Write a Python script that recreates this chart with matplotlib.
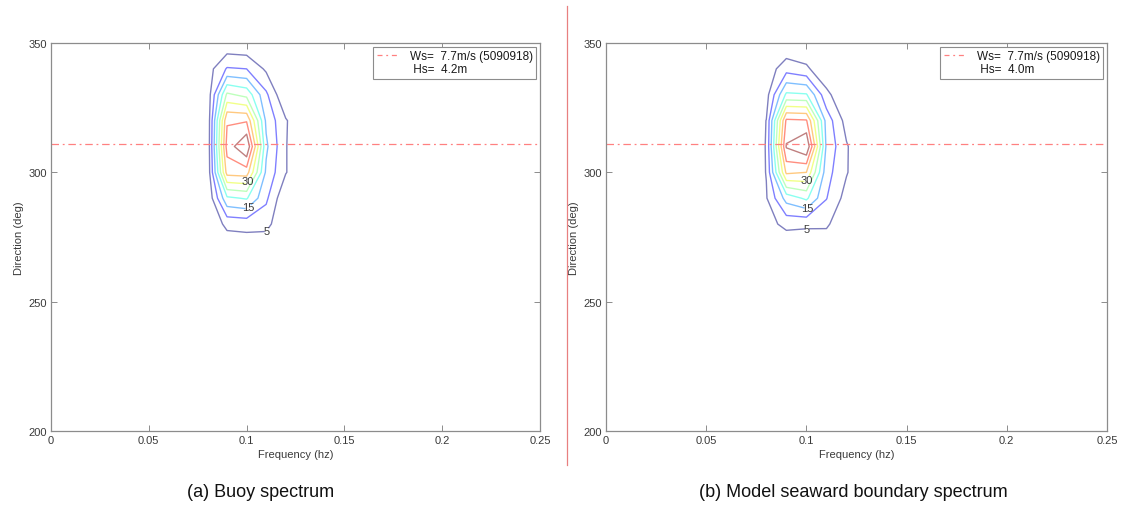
import numpy as np
import matplotlib
matplotlib.use("Agg")
import matplotlib.pyplot as plt
from matplotlib.lines import Line2D

plt.rcParams['font.family'] = ['Liberation Sans', 'DejaVu Sans']

# spectral grid: frequency (hz) x direction (deg)
freq = np.array([0.07, 0.08, 0.09, 0.10, 0.11, 0.12, 0.13])
direc = np.array([260, 270, 280, 290, 300, 310, 320, 330, 340, 350, 360])

# energy density, one row per direction
buoy_spec = np.array([
    [0, 0.0, 0.0, 0.0, 0.0, 0.0, 0],
    [0, 0.0, 0.5, 0.8, 0.5, 0.0, 0],
    [0, 0.0, 6.5, 7.0, 6.8, 0.0, 0],
    [0, 0.5, 19.0, 20.5, 11.0, 0.5, 0],
    [0, 1.0, 37.0, 37.5, 14.0, 5.3, 0],
    [0, 1.0, 42.0, 50.0, 16.0, 5.3, 0],
    [0, 1.0, 39.5, 39.5, 14.0, 5.5, 0],
    [0, 1.5, 26.0, 23.5, 11.0, 0.0, 0],
    [0, 2.6, 10.5, 10.0, 4.1, 0.0, 0],
    [0, 0.0, 1.0, 0.5, 0.0, 0.0, 0],
    [0, 0.0, 0.0, 0.0, 0.0, 0.0, 0],
])

model_spec = np.array([
    [0, 0.0, 0.0, 0.0, 0.0, 0.0, 0],
    [0, 0.0, 0.3, 0.5, 0.3, 0.0, 0],
    [0, 3.0, 6.5, 6.0, 6.0, 0.0, 0],
    [0, 4.6, 17.0, 21.0, 10.2, 3.0, 0],
    [0, 5.2, 36.0, 35.0, 12.0, 5.4, 0],
    [0, 5.3, 45.5, 50.0, 14.0, 5.5, 0],
    [0, 5.1, 41.0, 40.5, 13.0, 3.0, 0],
    [0, 3.0, 21.0, 20.5, 6.5, 0.0, 0],
    [0, 2.0, 8.0, 6.0, 0.5, 0.0, 0],
    [0, 0.0, 0.5, 0.3, 0.0, 0.0, 0],
    [0, 0.0, 0.0, 0.0, 0.0, 0.0, 0],
])

levels = [5, 10, 15, 20, 25, 30, 35, 40, 45]
buoy_labels = {5: (0.1103, 277.3), 15: (0.1007, 286.9), 30: (0.1008, 296.4)}
model_labels = {5: (0.1003, 275.1), 15: (0.1003, 286.7), 30: (0.1003, 296.8)}

wind_dir = 311.0
ws_label = "Ws=  7.7m/s (5090918)"
hs_buoy = " Hs=  4.2m"
hs_model = " Hs=  4.0m"

xticks = [0, 0.05, 0.1, 0.15, 0.2, 0.25]
xticklabels = ['0', '0.05', '0.1', '0.15', '0.2', '0.25']
yticks = [200, 250, 300, 350]

W, H = 1124, 510
fig = plt.figure(figsize=(W / 100, H / 100), dpi=100)
ax_a = fig.add_axes([51 / W, 1 - 432 / H, 489 / W, 388 / H])
ax_b = fig.add_axes([606 / W, 1 - 432 / H, 501 / W, 388 / H])

grey = '#8c8c8c'
txt = '#3a3a3a'
jet = plt.get_cmap('jet')


def draw_panel(ax, spec, hs_text, label_pos, caption, cap_x):
    # one contour set per level so each labelled level can be broken inline
    for i, lev in enumerate(levels):
        col = jet(i / (len(levels) - 1))
        cs = ax.contour(freq, direc, spec, levels=[lev], colors=[col],
                        linewidths=1.0, alpha=0.5)
        if lev in label_pos:
            lbls = ax.clabel(cs, manual=[label_pos[lev]], inline=True,
                             fontsize=8, colors=txt, fmt='%d')
            for t in lbls:
                t.set_rotation(0)
                t.set_alpha(1)

    ax.axhline(wind_dir, color='#ff8080', lw=0.9, dashes=(6, 3, 1.5, 3))

    h1 = Line2D([], [], color='#ff8080', lw=0.9, dashes=(4, 3, 1.5, 3))
    h2 = Line2D([], [], color='none')
    leg = ax.legend([h1, h2], [ws_label, hs_text], loc='upper right',
                    fontsize=8.5, frameon=True, fancybox=False, framealpha=1,
                    borderpad=0.3, labelspacing=0.1, handlelength=2.0,
                    handletextpad=0.8, borderaxespad=0.3)
    leg.get_frame().set_edgecolor(grey)
    leg.get_frame().set_linewidth(0.8)
    for t in leg.get_texts():
        t.set_color('#1a1a1a')

    ax.set_xlim(0, 0.25)
    ax.set_ylim(200, 350)
    ax.set_xticks(xticks)
    ax.set_xticklabels(xticklabels)
    ax.set_yticks(yticks)
    ax.tick_params(direction='in', length=4, width=0.7, color=grey,
                   labelsize=8, labelcolor=txt, top=True, right=True, pad=3)
    for s in ax.spines.values():
        s.set_color(grey)
        s.set_linewidth(0.9)
    ax.set_xlabel('Frequency (hz)', fontsize=8, color=txt, labelpad=3)
    ax.set_ylabel('Direction (deg)', fontsize=8, color=txt, labelpad=3)

    fig.text(cap_x / W, 1 - 493 / H, caption, ha='center', va='center',
             fontsize=13, color='#111111')


draw_panel(ax_a, buoy_spec, hs_buoy, buoy_labels, '(a) Buoy spectrum', 261)
draw_panel(ax_b, model_spec, hs_model, model_labels,
           '(b) Model seaward boundary spectrum', 853)

# thin separator between the two panels
fig.add_artist(Line2D([567 / W, 567 / W], [1 - 7 / H, 1 - 466 / H],
                      color='#e88080', lw=0.9))

fig.savefig('out.png', dpi=100)
